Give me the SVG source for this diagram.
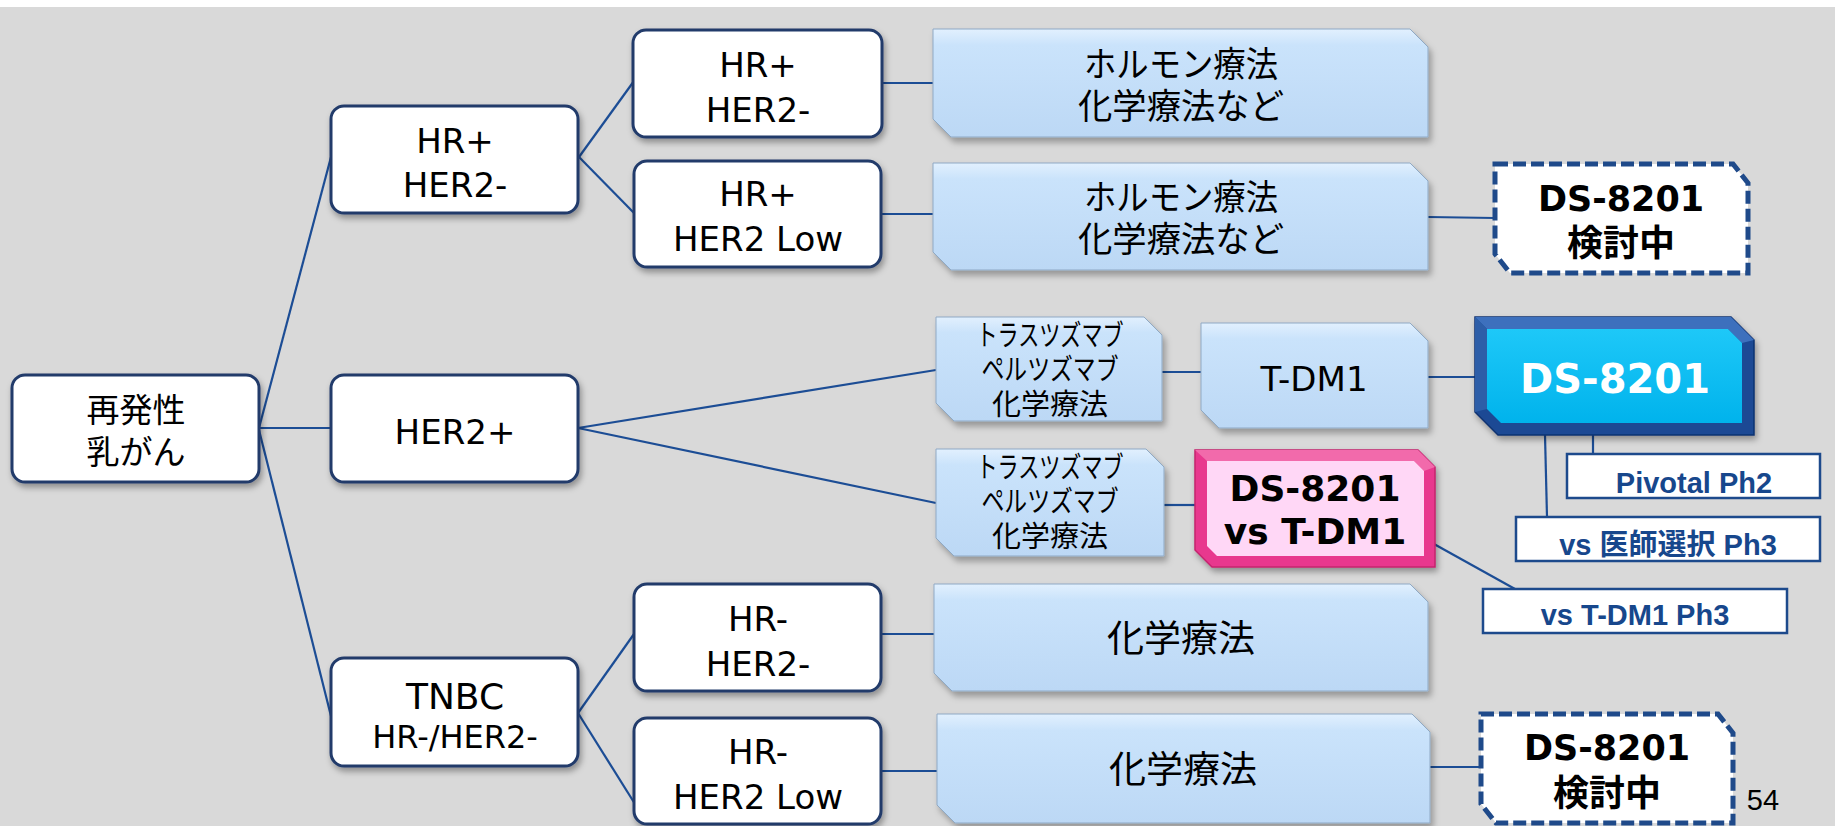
<svg xmlns="http://www.w3.org/2000/svg" width="1835" height="826" viewBox="0 0 1835 826">
<defs>
<style>
.wbox{fill:#ffffff;stroke:#203a6b;stroke-width:3;filter:url(#sh)}
.bbox{fill:url(#bg);stroke:#8fa9c4;stroke-width:1;filter:url(#sh2)}
.dbox{fill:#ffffff;stroke:#1f4a8a;stroke-width:5;stroke-dasharray:13 5}
.lbox{fill:#ffffff;stroke:#1d4a8c;stroke-width:2.5}
.con line{stroke:#1c4d95;stroke-width:2.2}
.lat{font-family:"DejaVu Sans","Noto Sans CJK JP",sans-serif;font-size:34px;fill:#000;text-anchor:middle}
.cjk{font-family:"Noto Sans CJK JP",sans-serif;fill:#000;text-anchor:middle}
.bold{font-family:"DejaVu Sans","Noto Sans CJK JP",sans-serif;font-weight:bold;text-anchor:middle}
.lab{font-family:"Liberation Sans","Noto Sans CJK JP",sans-serif;font-weight:bold;font-size:29px;fill:#17478c;text-anchor:middle}
</style>
<linearGradient id="bg" x1="0" y1="0" x2="0" y2="1">
<stop offset="0" stop-color="#e2f0fe"/>
<stop offset="0.15" stop-color="#cae3fb"/>
<stop offset="1" stop-color="#bcd8f5"/>
</linearGradient>
<linearGradient id="cy" x1="0" y1="0" x2="0" y2="1">
<stop offset="0" stop-color="#1ec8f8"/>
<stop offset="1" stop-color="#00b3ec"/>
</linearGradient>
<filter id="sh" x="-10%" y="-10%" width="125%" height="135%">
<feDropShadow dx="2" dy="4" stdDeviation="3" flood-color="#000" flood-opacity="0.35"/>
</filter>
<filter id="sh2" x="-10%" y="-10%" width="125%" height="135%">
<feDropShadow dx="3" dy="5" stdDeviation="3" flood-color="#000" flood-opacity="0.3"/>
</filter>
</defs>
<rect x="0" y="0" width="1835" height="826" fill="#ffffff"/>
<rect x="0" y="7" width="1835" height="819" fill="#d9d9d9"/>

<g id="connectors" class="con">
<line x1="259" y1="428" x2="331" y2="157"/>
<line x1="259" y1="428" x2="331" y2="428"/>
<line x1="259" y1="430" x2="332" y2="720"/>
<line x1="579" y1="157" x2="634" y2="81"/>
<line x1="579" y1="157" x2="634" y2="213"/>
<line x1="881" y1="83" x2="933" y2="83"/>
<line x1="881" y1="214" x2="933" y2="214"/>
<line x1="1428" y1="217" x2="1495" y2="218"/>
<line x1="578" y1="428" x2="936" y2="370"/>
<line x1="578" y1="428" x2="936" y2="503"/>
<line x1="1162" y1="372" x2="1201" y2="372"/>
<line x1="1428" y1="377" x2="1475" y2="377"/>
<line x1="1164" y1="505" x2="1195" y2="505"/>
<line x1="1434" y1="544" x2="1515" y2="589"/>
<line x1="1593" y1="435" x2="1593" y2="454"/>
<line x1="1545" y1="435" x2="1547" y2="517"/>
<line x1="578" y1="713" x2="634" y2="634"/>
<line x1="578" y1="713" x2="635" y2="804"/>
<line x1="881" y1="634" x2="934" y2="634"/>
<line x1="881" y1="771" x2="937" y2="771"/>
<line x1="1430" y1="767" x2="1481" y2="767"/>
</g>

<g id="n-root">
<rect class="wbox" x="12" y="375" width="247" height="107" rx="13"/>
<text class="cjk" font-size="33"><tspan x="136" y="422">再発性</tspan><tspan x="136" y="464">乳がん</tspan></text>
</g>
<g id="n-hrp-her2n">
<rect class="wbox" x="331" y="106" width="247" height="107" rx="13"/>
<text class="lat"><tspan x="455" y="153">HR+</tspan><tspan x="455" y="197">HER2-</tspan></text>
</g>
<g id="n-her2p">
<rect class="wbox" x="331" y="375" width="247" height="107" rx="13"/>
<text class="lat" x="455" y="444">HER2+</text>
</g>
<g id="n-tnbc">
<rect class="wbox" x="331" y="658" width="247" height="108" rx="13"/>
<text class="lat"><tspan font-size="36" x="455" y="709">TNBC</tspan><tspan font-size="32" x="455" y="748">HR-/HER2-</tspan></text>
</g>
<g id="n-hrp-her2n-2">
<rect class="wbox" x="633" y="30" width="249" height="107" rx="13"/>
<text class="lat"><tspan x="758" y="77">HR+</tspan><tspan x="758" y="122">HER2-</tspan></text>
</g>
<g id="n-hrp-her2low">
<rect class="wbox" x="634" y="161" width="247" height="106" rx="13"/>
<text class="lat"><tspan x="758" y="206">HR+</tspan><tspan x="758" y="251">HER2 Low</tspan></text>
</g>
<g id="n-hrn-her2n">
<rect class="wbox" x="634" y="584" width="247" height="107" rx="13"/>
<text class="lat"><tspan x="758" y="631">HR-</tspan><tspan x="758" y="676">HER2-</tspan></text>
</g>
<g id="n-hrn-her2low">
<rect class="wbox" x="634" y="718" width="247" height="106" rx="13"/>
<text class="lat"><tspan x="758" y="764">HR-</tspan><tspan x="758" y="809">HER2 Low</tspan></text>
</g>

<g id="n-hormone1">
<polygon class="bbox" points="933,29 1410,29 1428,47 1428,137 951,137 933,119"/>
<text class="cjk" font-size="35"><tspan x="1181" y="77" textLength="194" lengthAdjust="spacingAndGlyphs">ホルモン療法</tspan><tspan x="1181" y="119" textLength="206" lengthAdjust="spacingAndGlyphs">化学療法など</tspan></text>
</g>
<g id="n-hormone2">
<polygon class="bbox" points="933,163 1410,163 1428,181 1428,270 951,270 933,252"/>
<text class="cjk" font-size="35"><tspan x="1181" y="210" textLength="194" lengthAdjust="spacingAndGlyphs">ホルモン療法</tspan><tspan x="1181" y="252" textLength="206" lengthAdjust="spacingAndGlyphs">化学療法など</tspan></text>
</g>
<g id="n-trast1">
<polygon class="bbox" points="936,317 1144,317 1162,335 1162,421 954,421 936,403"/>
<text class="cjk" font-size="29"><tspan x="1050" y="346" textLength="147" lengthAdjust="spacingAndGlyphs">トラスツズマブ</tspan><tspan x="1050" y="380" textLength="137" lengthAdjust="spacingAndGlyphs">ペルツズマブ</tspan><tspan x="1050" y="415" textLength="116" lengthAdjust="spacingAndGlyphs">化学療法</tspan></text>
</g>
<g id="n-tdm1">
<polygon class="bbox" points="1201,323 1410,323 1428,341 1428,428 1219,428 1201,410"/>
<text class="lat" font-size="37" x="1314" y="391">T-DM1</text>
</g>
<g id="n-trast2">
<polygon class="bbox" points="936,449 1146,449 1164,467 1164,556 954,556 936,538"/>
<text class="cjk" font-size="29"><tspan x="1050" y="478" textLength="147" lengthAdjust="spacingAndGlyphs">トラスツズマブ</tspan><tspan x="1050" y="512" textLength="137" lengthAdjust="spacingAndGlyphs">ペルツズマブ</tspan><tspan x="1050" y="547" textLength="116" lengthAdjust="spacingAndGlyphs">化学療法</tspan></text>
</g>
<g id="n-chemo1">
<polygon class="bbox" points="934,584 1410,584 1428,602 1428,691 952,691 934,673"/>
<text class="cjk" font-size="37" x="1181" y="652">化学療法</text>
</g>
<g id="n-chemo2">
<polygon class="bbox" points="937,714 1412,714 1430,732 1430,823 955,823 937,805"/>
<text class="cjk" font-size="37" x="1183" y="783">化学療法</text>
</g>

<g id="n-ds-study1">
<polygon class="dbox" points="1495,164 1733,164 1748,183 1748,273 1510,273 1495,254"/>
<text class="bold" fill="#000"><tspan font-size="35" x="1621" y="211">DS-8201</tspan><tspan font-size="36" x="1621" y="256">検討中</tspan></text>
</g>
<g id="n-ds-study2">
<polygon class="dbox" points="1481,714 1718,714 1733,733 1733,823 1496,823 1481,804"/>
<text class="bold" fill="#000"><tspan font-size="35" x="1607" y="760">DS-8201</tspan><tspan font-size="36" x="1607" y="806">検討中</tspan></text>
</g>

<g id="n-ds8201">
<polygon points="1475,317 1731,317 1754,340 1754,435 1498,435 1475,412" fill="#1b4a94" stroke="#0e3270" stroke-width="1.5" filter="url(#sh)"/>
<polygon points="1475,317 1731,317 1754,340 1742,343 1728,329 1487,329" fill="#3d70bd"/>
<polygon points="1475,317 1487,329 1487,409 1475,412" fill="#2d5ea8"/>
<polygon points="1487,329 1728,329 1742,343 1742,423 1501,423 1487,409" fill="url(#cy)"/>
<text class="bold" font-size="40" fill="#ffffff" x="1615" y="393">DS-8201</text>
</g>

<g id="n-ds-vs-tdm1">
<polygon points="1195,450 1418,450 1435,467 1435,567 1212,567 1195,550" fill="#e8398e" stroke="#c4246e" stroke-width="1.5" filter="url(#sh)"/>
<polygon points="1195,450 1418,450 1435,467 1424,471 1414,461 1207,461" fill="#f26aab"/>
<polygon points="1207,461 1414,461 1424,471 1424,556 1217,556 1207,546" fill="#ffd7f6"/>
<text class="bold" font-size="36" fill="#000"><tspan x="1315" y="501">DS-8201</tspan><tspan x="1315" y="544">vs T-DM1</tspan></text>
</g>

<g id="n-pivotal">
<rect class="lbox" x="1567" y="454" width="253" height="44"/>
<text class="lab" x="1694" y="493">Pivotal Ph2</text>
</g>
<g id="n-vs-physician">
<rect class="lbox" x="1516" y="517" width="304" height="44"/>
<text class="lab" x="1668" y="555">vs 医師選択 Ph3</text>
</g>
<g id="n-vs-tdm1-ph3">
<rect class="lbox" x="1483" y="589" width="304" height="44"/>
<text class="lab" x="1635" y="625">vs T-DM1 Ph3</text>
</g>

<text x="1763" y="810" font-family="Liberation Sans, sans-serif" font-size="29" fill="#000" text-anchor="middle">54</text>
</svg>
